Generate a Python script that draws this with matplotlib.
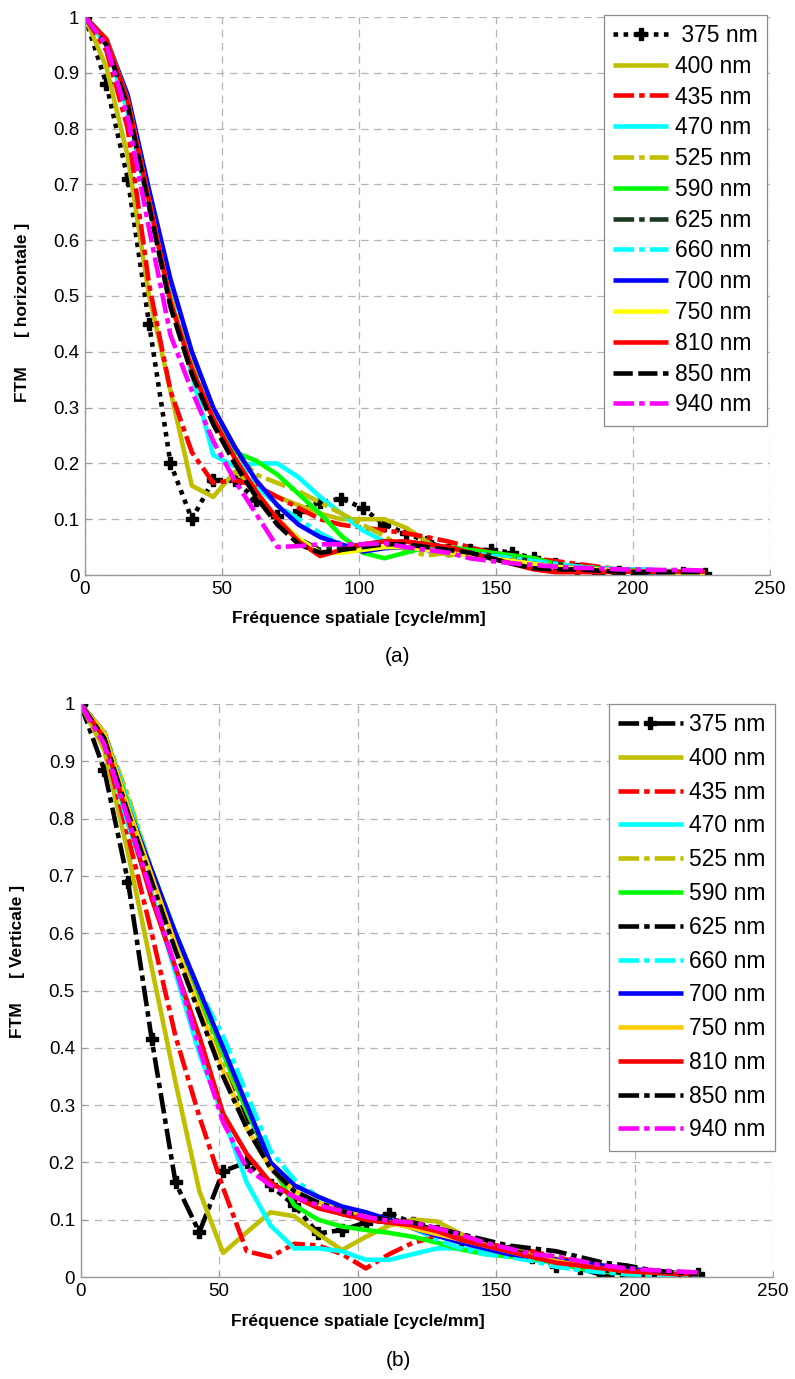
import numpy as np
import matplotlib.pyplot as plt

plt.rcParams['font.family'] = ['Liberation Sans', 'DejaVu Sans']

labels = ['375 nm', '400 nm', '435 nm', '470 nm', '525 nm', '590 nm', '625 nm',
          '660 nm', '700 nm', '750 nm', '810 nm', '850 nm', '940 nm']

# (a) horizontal MTF
freq_a = [0, 7.8, 15.6, 23.4, 31.2, 39, 46.8, 54.6, 62.4, 70.2, 78, 85.8, 93.6, 101.4,
          109.2, 117, 124.8, 132.6, 140.4, 148.2, 156, 163.8, 171.6, 179.4, 187.2,
          195, 202.8, 210.6, 218.4, 226.2]
a375 = [1, 0.88, 0.71, 0.45, 0.20, 0.10, 0.17, 0.17, 0.135, 0.105, 0.115, 0.13, 0.137, 0.12,
        0.09, 0.075, 0.06, 0.045, 0.045, 0.045, 0.04, 0.03, 0.02, 0.01, 0.004, 0.005, 0.0,
        0.0, 0.003, 0.002]
a400 = [1, 0.91, 0.75, 0.5, 0.33, 0.16, 0.14, 0.185, 0.16, 0.14, 0.125, 0.11, 0.1, 0.1,
        0.1, 0.085, 0.06, 0.035, 0.04, 0.035, 0.03, 0.025, 0.02, 0.015, 0.01, 0.008, 0.006,
        0.005, 0.005, 0.005]
a435 = [1, 0.94, 0.80, 0.52, 0.33, 0.22, 0.165, 0.17, 0.16, 0.14, 0.12, 0.10, 0.09, 0.085,
        0.08, 0.075, 0.068, 0.06, 0.05, 0.04, 0.035, 0.03, 0.025, 0.02, 0.015, 0.01, 0.008,
        0.005, 0.003, 0.003]
a470 = [1, 0.95, 0.83, 0.66, 0.5, 0.36, 0.215, 0.195, 0.2, 0.2, 0.175, 0.14, 0.11, 0.08,
        0.06, 0.05, 0.045, 0.045, 0.04, 0.035, 0.03, 0.025, 0.02, 0.015, 0.012, 0.01, 0.01,
        0.008, 0.006, 0.005]
a525 = [1, 0.96, 0.85, 0.68, 0.5, 0.38, 0.29, 0.22, 0.18, 0.165, 0.15, 0.13, 0.11, 0.09,
        0.07, 0.045, 0.035, 0.04, 0.04, 0.035, 0.03, 0.025, 0.02, 0.015, 0.012, 0.01,
        0.008, 0.006, 0.005, 0.005]
a590 = [1, 0.96, 0.85, 0.67, 0.49, 0.37, 0.28, 0.22, 0.205, 0.18, 0.145, 0.11, 0.07, 0.04,
        0.03, 0.04, 0.05, 0.05, 0.045, 0.04, 0.035, 0.03, 0.02, 0.015, 0.012, 0.01, 0.008,
        0.006, 0.005, 0.005]
a625 = [1, 0.96, 0.85, 0.67, 0.49, 0.37, 0.28, 0.21, 0.15, 0.1, 0.065, 0.045, 0.05, 0.055,
        0.06, 0.06, 0.055, 0.05, 0.04, 0.035, 0.03, 0.025, 0.02, 0.015, 0.01, 0.008, 0.006,
        0.005, 0.005, 0.005]
a660 = [1, 0.96, 0.85, 0.67, 0.49, 0.37, 0.28, 0.21, 0.16, 0.125, 0.1, 0.075, 0.055, 0.05,
        0.05, 0.05, 0.045, 0.045, 0.04, 0.035, 0.03, 0.025, 0.02, 0.015, 0.012, 0.01, 0.01,
        0.008, 0.006, 0.005]
a700 = [1, 0.96, 0.86, 0.69, 0.53, 0.40, 0.30, 0.23, 0.17, 0.125, 0.09, 0.068, 0.055, 0.042,
        0.048, 0.05, 0.045, 0.04, 0.035, 0.03, 0.025, 0.02, 0.015, 0.012, 0.01, 0.008,
        0.006, 0.004, 0.003, 0.003]
a750 = [1, 0.96, 0.85, 0.67, 0.49, 0.37, 0.28, 0.21, 0.15, 0.10, 0.065, 0.04, 0.04, 0.045,
        0.05, 0.05, 0.045, 0.04, 0.035, 0.03, 0.025, 0.02, 0.015, 0.012, 0.01, 0.008, 0.006,
        0.005, 0.004, 0.004]
a810 = [1, 0.96, 0.85, 0.67, 0.49, 0.37, 0.28, 0.21, 0.15, 0.10, 0.06, 0.034, 0.045, 0.055,
        0.06, 0.06, 0.055, 0.05, 0.04, 0.03, 0.02, 0.01, 0.005, 0.005, 0.005, 0.006, 0.006,
        0.006, 0.006, 0.006]
a850 = [1, 0.95, 0.84, 0.66, 0.48, 0.36, 0.27, 0.2, 0.14, 0.09, 0.055, 0.04, 0.045, 0.05,
        0.055, 0.055, 0.05, 0.045, 0.04, 0.03, 0.02, 0.012, 0.01, 0.01, 0.008, 0.006, 0.005,
        0.005, 0.005, 0.005]
a940 = [1, 0.95, 0.82, 0.62, 0.43, 0.33, 0.24, 0.17, 0.11, 0.05, 0.052, 0.055, 0.055, 0.055,
        0.057, 0.05, 0.045, 0.04, 0.03, 0.025, 0.021, 0.018, 0.015, 0.013, 0.012, 0.01,
        0.01, 0.009, 0.009, 0.008]

# (b) vertical MTF
freq_b = [0, 8.58, 17.15, 25.7, 34.3, 42.9, 51.5, 60, 68.6, 77.2, 85.8, 94.4, 103, 111.5,
          120.1, 128.7, 137.3, 145.8, 154.4, 163, 171.6, 180.2, 188.7, 197.3, 205.9, 214.5, 223]
b375 = [1, 0.885, 0.69, 0.415, 0.165, 0.078, 0.185, 0.2, 0.16, 0.125, 0.076, 0.082, 0.095,
        0.11, 0.095, 0.08, 0.065, 0.05, 0.045, 0.035, 0.02, 0.015, 0.003, 0.0, 0.005, 0.0, 0.005]
b400 = [1, 0.92, 0.74, 0.54, 0.34, 0.15, 0.042, 0.078, 0.113, 0.106, 0.075, 0.047, 0.07,
        0.09, 0.1, 0.097, 0.075, 0.06, 0.05, 0.04, 0.03, 0.02, 0.015, 0.01, 0.008, 0.005, 0.005]
b435 = [1, 0.93, 0.77, 0.6, 0.42, 0.28, 0.155, 0.045, 0.035, 0.058, 0.055, 0.04, 0.015, 0.04,
        0.06, 0.07, 0.068, 0.06, 0.05, 0.045, 0.035, 0.025, 0.018, 0.012, 0.008, 0.005, 0.004]
b470 = [1, 0.94, 0.79, 0.67, 0.53, 0.39, 0.28, 0.165, 0.09, 0.05, 0.05, 0.045, 0.03, 0.03,
        0.04, 0.05, 0.05, 0.045, 0.04, 0.03, 0.025, 0.015, 0.01, 0.005, 0.004, 0.003, 0.003]
b525 = [1, 0.95, 0.84, 0.71, 0.6, 0.49, 0.38, 0.28, 0.2, 0.15, 0.125, 0.11, 0.1, 0.095,
        0.09, 0.08, 0.07, 0.06, 0.05, 0.04, 0.032, 0.025, 0.018, 0.012, 0.008, 0.005, 0.005]
b590 = [1, 0.95, 0.83, 0.71, 0.6, 0.49, 0.39, 0.29, 0.2, 0.125, 0.1, 0.088, 0.082, 0.077,
        0.07, 0.06, 0.048, 0.04, 0.036, 0.032, 0.025, 0.015, 0.01, 0.005, 0.003, 0.002, 0.002]
b625 = [1, 0.95, 0.82, 0.7, 0.58, 0.47, 0.36, 0.27, 0.19, 0.15, 0.125, 0.11, 0.1, 0.095,
        0.09, 0.08, 0.065, 0.055, 0.045, 0.04, 0.03, 0.02, 0.012, 0.006, 0.003, 0.002, 0.003]
b660 = [1, 0.95, 0.83, 0.71, 0.6, 0.5, 0.42, 0.32, 0.22, 0.17, 0.14, 0.12, 0.11, 0.1,
        0.085, 0.065, 0.05, 0.04, 0.035, 0.028, 0.018, 0.012, 0.008, 0.005, 0.003, 0.002, 0.002]
b700 = [1, 0.95, 0.82, 0.71, 0.6, 0.5, 0.4, 0.3, 0.2, 0.16, 0.14, 0.123, 0.113, 0.1,
        0.085, 0.072, 0.06, 0.05, 0.04, 0.035, 0.03, 0.025, 0.02, 0.015, 0.01, 0.007, 0.005]
b750 = [1, 0.95, 0.82, 0.7, 0.58, 0.47, 0.36, 0.26, 0.19, 0.15, 0.13, 0.115, 0.105, 0.095,
        0.085, 0.075, 0.065, 0.055, 0.045, 0.035, 0.028, 0.02, 0.015, 0.01, 0.008, 0.006, 0.006]
b810 = [1, 0.94, 0.8, 0.66, 0.54, 0.42, 0.285, 0.215, 0.165, 0.14, 0.12, 0.11, 0.1, 0.095,
        0.09, 0.08, 0.065, 0.055, 0.045, 0.035, 0.025, 0.02, 0.015, 0.01, 0.008, 0.005, 0.005]
b850 = [1, 0.94, 0.81, 0.69, 0.57, 0.46, 0.35, 0.26, 0.19, 0.15, 0.13, 0.115, 0.105, 0.1,
        0.095, 0.085, 0.075, 0.065, 0.055, 0.05, 0.045, 0.035, 0.025, 0.02, 0.012, 0.008, 0.005]
b940 = [1, 0.93, 0.8, 0.67, 0.54, 0.4, 0.27, 0.19, 0.16, 0.14, 0.125, 0.115, 0.105, 0.098,
        0.095, 0.085, 0.074, 0.06, 0.05, 0.04, 0.036, 0.028, 0.02, 0.015, 0.012, 0.01, 0.008]

series_a = [a375, a400, a435, a470, a525, a590, a625, a660, a700, a750, a810, a850, a940]
series_b = [b375, b400, b435, b470, b525, b590, b625, b660, b700, b750, b810, b850, b940]

olive = '#BFBF00'
dd = (4.5, 1.1, 1.2, 1.1)      # matlab style dash-dot
dotted = (1.0, 1.2)
dashed = (4.2, 1.2)

styles_a = [
    dict(color='k', dashes=dotted, marker='P', ms=8),
    dict(color=olive),
    dict(color='#FF0000', dashes=dd),
    dict(color='#00FFFF'),
    dict(color=olive, dashes=dd),
    dict(color='#00FF00'),
    dict(color='#1B3A24', dashes=dd),
    dict(color='#00FFFF', dashes=dd),
    dict(color='#0000FF'),
    dict(color='#FFFF00'),
    dict(color='#FF0000'),
    dict(color='k', dashes=dashed),
    dict(color='#FF00FF', dashes=dd),
]
styles_b = [dict(s) for s in styles_a]
styles_b[0] = dict(color='k', dashes=dd, marker='P', ms=8)
styles_b[6] = dict(color='k', dashes=dd)
styles_b[9] = dict(color='#FFCC00')
styles_b[11] = dict(color='k', dashes=dd)

W, H = 795, 1379
fig = plt.figure(figsize=(W / 100, H / 100), dpi=100)
ax_a = fig.add_axes([85 / W, 1 - 575 / H, 685 / W, 558 / H])
ax_b = fig.add_axes([80.5 / W, 1 - 1277 / H, 692.5 / W, 573 / H])


def draw(ax, freq, series, styles, names, ylab, lab_y, spacing, hlen, anchor):
    for vals, lab, st in zip(series, names, styles):
        ax.plot(freq, vals, lw=3.3, label=lab, solid_capstyle='butt',
                dash_capstyle='butt', **st)
    ax.set_xlim(0, 250)
    ax.set_ylim(0, 1)
    ax.set_xticks([0, 50, 100, 150, 200, 250])
    yt = np.arange(0, 11) / 10
    ax.set_yticks(yt)
    ax.set_yticklabels(['%g' % v for v in yt])
    ax.tick_params(direction='in', length=4, color='#999999', labelsize=13.5,
                   pad=4)
    for s in ['top', 'right']:
        ax.spines[s].set_visible(False)
    for s in ['left', 'bottom']:
        ax.spines[s].set_color('#9a9a9a')
        ax.spines[s].set_linewidth(1.0)
    ax.grid(True, color='#b4b4b4', lw=0.9, ls=(0, (6, 4.5)))
    ax.set_axisbelow(True)
    ax.set_xlabel('Fréquence spatiale [cycle/mm]', fontsize=12.5,
                  fontweight='bold')
    ax.xaxis.set_label_coords(0.40, -0.065)
    ax.set_ylabel(ylab, fontsize=12.5, fontweight='bold')
    ax.yaxis.set_label_coords(-0.08, lab_y)
    leg = ax.legend(loc='upper right', bbox_to_anchor=anchor, borderaxespad=0,
                    fontsize=16.5, handlelength=hlen, handletextpad=0.3,
                    labelspacing=spacing, borderpad=0.4, fancybox=False,
                    framealpha=1, edgecolor='#8c8c8c', numpoints=1)
    leg.get_frame().set_linewidth(0.9)


names_a = [' ' + labels[0]] + labels[1:]
draw(ax_a, freq_a, series_a, styles_a, names_a, 'FTM      [ horizontale ]', 0.47,
     0.34, 2.4, (0.996, 1.004))
draw(ax_b, freq_b, series_b, styles_b, labels, 'FTM     [ Verticale ]', 0.55,
     0.47, 2.8, (1.003, 1.0))

fig.text(398 / W, 1 - 657 / H, '(a)', fontsize=15, ha='center', va='center')
fig.text(398 / W, 1 - 1361 / H, '(b)', fontsize=15, ha='center', va='center')

fig.savefig('out.png', dpi=100)
